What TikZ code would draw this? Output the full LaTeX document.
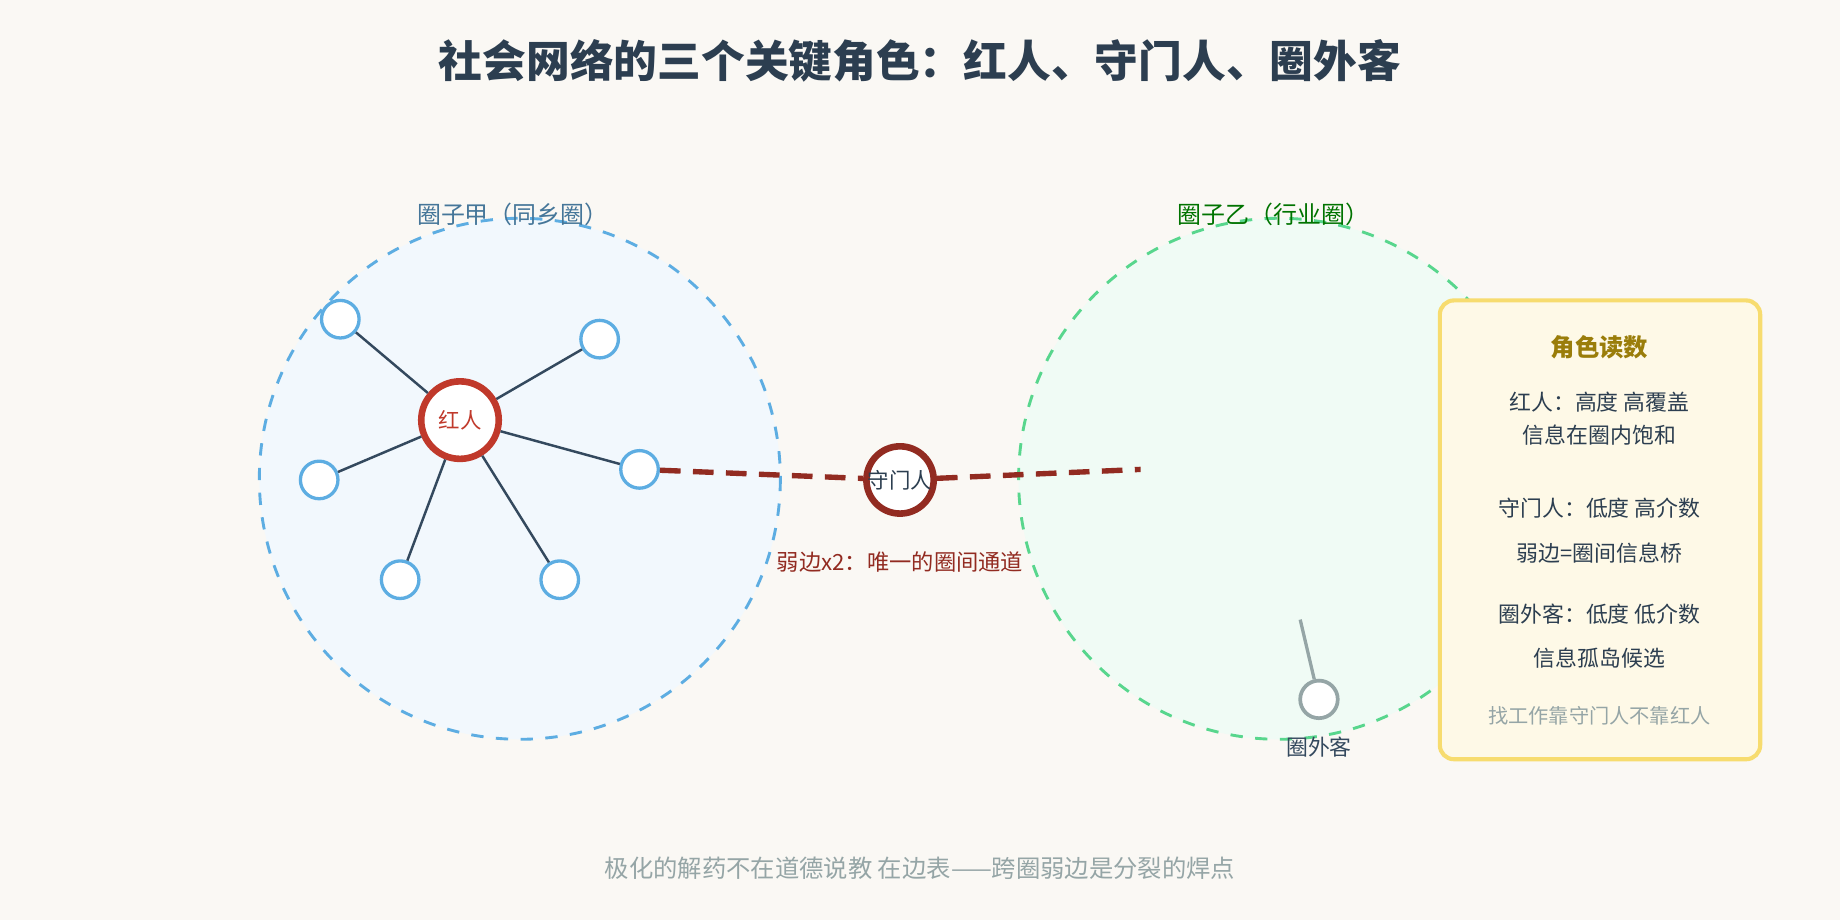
\documentclass[tikz,border=0pt]{standalone}
\usepackage{fontspec}
\setmainfont{Noto Sans CJK SC}
\definecolor{bgc}{HTML}{FAF8F4}
\definecolor{ink}{HTML}{2C3E50}
\definecolor{edgec}{HTML}{34495E}
\definecolor{blu}{HTML}{5DADE2}
\definecolor{grn}{HTML}{58D68D}
\definecolor{redc}{HTML}{C0392B}
\definecolor{darkred}{HTML}{922B21}
\definecolor{grayc}{HTML}{95A5A6}
\definecolor{gold}{HTML}{9A7D0A}
\definecolor{boxfill}{HTML}{FEF9E7}
\definecolor{boxline}{HTML}{F7DC6F}
\begin{document}
\begin{tikzpicture}[x=0.01cm, y=-0.01cm, line width=0.6pt,
    leaf/.style={circle, draw=blu, fill=white, line width=0.8pt, minimum size=0.32cm, inner sep=0pt},
    txt/.style={font=\fontsize{5.3}{6}\selectfont, text=ink}]
    \fill[bgc] (0,0) rectangle (1568,784);
    \useasboundingbox (0,0) rectangle (1568,784);

    \node[font=\fontsize{10.6}{12}\selectfont\bfseries, text=ink] (title) at (784,52) {社会网络的三个关键角色：红人、守门人、圈外客};

    % two circles
    \draw[blu, dashed, fill=blu!8, line width=0.7pt] (443,408) circle (222);
    \draw[grn, dashed, fill=grn!9, line width=0.7pt] (1090,408) circle (222);
    \node[font=\fontsize{5.8}{7}\selectfont, text=blu!50!ink] (labA) at (437,183) {圈子甲（同乡圈）};
    \node[font=\fontsize{5.8}{7}\selectfont, text=green!45!black] (labB) at (1085,183) {圈子乙（行业圈）};

    % hub and leaves
    \node[circle, draw=redc, fill=white, line width=1.6pt, minimum size=0.66cm, inner sep=0pt,
          text=redc, font=\fontsize{5.2}{6}\selectfont] (hub) at (392,358) {红人};
    \node[leaf] (l1) at (290,272) {};
    \node[leaf] (l2) at (511,289) {};
    \node[leaf] (l3) at (272,409) {};
    \node[leaf] (l4) at (545,400) {};
    \node[leaf] (l5) at (341,494) {};
    \node[leaf] (l6) at (477,494) {};
    \foreach \l in {l1,l2,l3,l4,l5,l6}
        \draw[edgec] (hub) -- (\l);

    % gatekeeper
    \node[circle, draw=darkred, fill=white, line width=1.6pt, minimum size=0.54cm, inner sep=0pt,
          text=ink, font=\fontsize{5.2}{6}\selectfont] (gate) at (767,409) {守门人};
    \coordinate (bend) at (972,400);
    \draw[darkred, line width=1.3pt, dash pattern=on 5pt off 3pt] (l4) -- (gate) -- (bend);
    \node[font=\fontsize{5.4}{6}\selectfont, text=darkred] (weak) at (767,479) {弱边x2：唯一的圈间通道};

    % outsider
    \node[circle, draw=grayc, fill=white, line width=0.9pt, minimum size=0.32cm, inner sep=0pt] (out) at (1124,596) {};
    \coordinate (stub) at (1108,528);
    \draw[grayc, line width=0.8pt] (stub) -- (out);
    \node[font=\fontsize{5.3}{6}\selectfont, text=edgec] (outlab) at (1124,637) {圈外客};

    % legend box
    \draw[rounded corners=0.12cm, draw=boxline, fill=boxfill, line width=1pt] (1227,256) rectangle (1500,647);
    \node[font=\fontsize{5.9}{7}\selectfont\bfseries, text=gold] (box) at (1363,296) {角色读数};
    \node[txt] (r1) at (1363,343) {红人：高度 高覆盖};
    \node[txt] (r2) at (1363,371) {信息在圈内饱和};
    \node[txt] (g1) at (1363,433) {守门人：低度 高介数};
    \node[txt] (g2) at (1363,471) {弱边=圈间信息桥};
    \node[txt] (o1) at (1363,523) {圈外客：低度 低介数};
    \node[txt] (o2) at (1363,561) {信息孤岛候选};
    \node[font=\fontsize{4.9}{6}\selectfont, text=grayc] (note) at (1363,610) {找工作靠守门人不靠红人};

    \node[font=\fontsize{5.9}{7}\selectfont, text=grayc] (foot) at (784,740) {极化的解药不在道德说教 在边表——跨圈弱边是分裂的焊点};
\end{tikzpicture}
\end{document}
